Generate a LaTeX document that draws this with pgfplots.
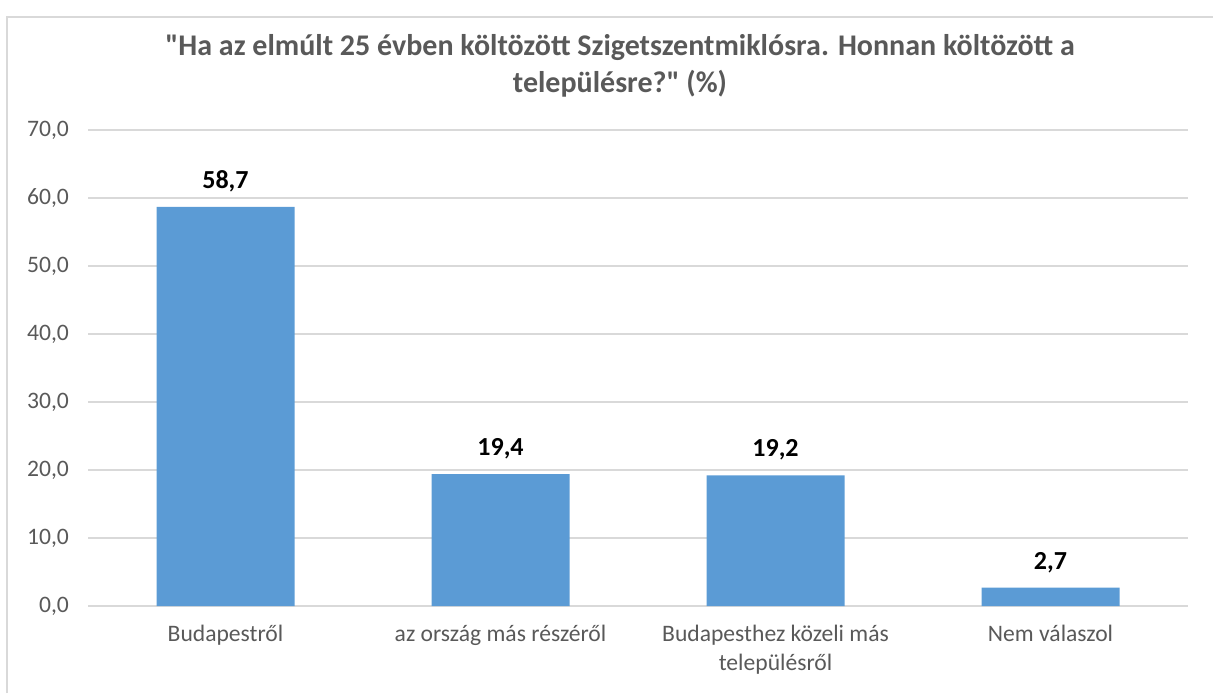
\documentclass[border=0pt]{standalone}
\usepackage{pgfplots}
\pgfplotsset{compat=1.18}
\usepackage{fontspec}
\setmainfont{Carlito}[Ligatures=TeXOff]
\definecolor{barblue}{HTML}{5B9BD5}
\definecolor{gridgray}{HTML}{D9D9D9}
\definecolor{txtgray}{HTML}{595959}
\begin{document}
\begin{tikzpicture}
\useasboundingbox (0pt,0pt) rectangle (606.5pt,346.5pt);
% chart frame (left and top edges visible)
\draw[gridgray, line width=1pt] (3.5pt,0pt) -- (3.5pt,338pt) -- (606.5pt,338pt);
% title
\node[txtgray, font=\fontsize{15}{18}\selectfont\bfseries] at (310pt,322.5pt) {"Ha az elmúlt 25 évben költözött Szigetszentmiklósra. Honnan költözött a};
\node[txtgray, font=\fontsize{15}{18}\selectfont\bfseries] at (310pt,304.5pt) {településre?" (\%)};
\begin{axis}[
  at={(44pt,43.5pt)}, anchor=south west,
  scale only axis, width=550pt, height=238pt,
  ymin=0, ymax=70, ytick={0,10,...,70},
  xmin=-0.5, xmax=3.5,
  xtick=data,
  xticklabels={Budapestről, az ország más részéről, {Budapesthez közeli más\\településről}, Nem válaszol},
  x tick label style={align=center, text=txtgray, font=\fontsize{11.8}{14.5}\selectfont, yshift=-6pt},
  y tick label style={text=txtgray, font=\fontsize{11.8}{13}\selectfont, xshift=-6pt},
  major tick length=0pt,
  axis line style={draw=none},
  ymajorgrids, grid style={gridgray, line width=0.75pt},
  yticklabel style={/pgf/number format/.cd, fixed, fixed zerofill, precision=1, use comma, assume math mode=true},
  ybar, bar width=69pt,
  nodes near coords,
  nodes near coords style={font=\fontsize{13}{15}\selectfont\bfseries, text=black, yshift=4pt,
    /pgf/number format/.cd, fixed, fixed zerofill, precision=1, use comma, assume math mode=true},
  clip=false,
]
\addplot[fill=barblue, draw=none] coordinates {(0,58.7) (1,19.4) (2,19.2) (3,2.7)};
\end{axis}
\end{tikzpicture}
\end{document}
